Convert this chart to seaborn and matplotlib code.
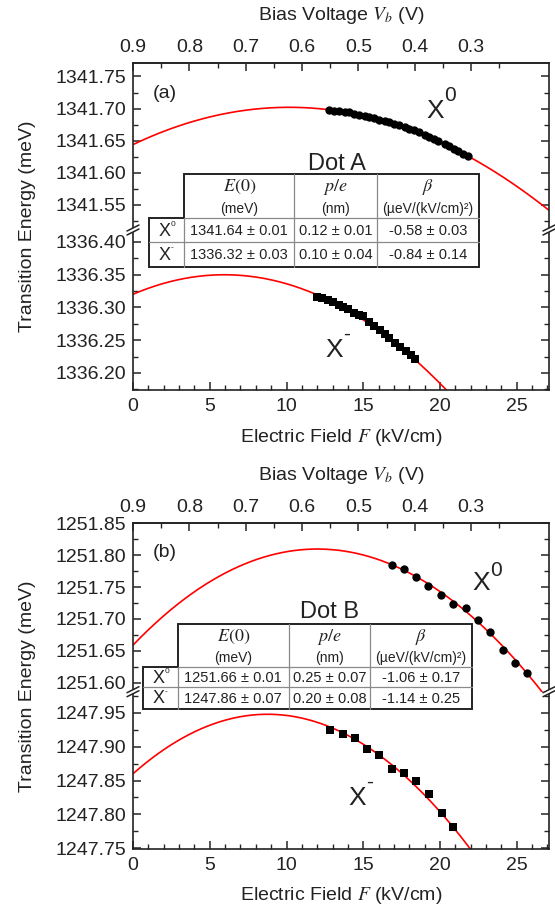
import numpy as np
import matplotlib
matplotlib.use("Agg")
import matplotlib.pyplot as plt
from matplotlib.lines import Line2D
from matplotlib.patches import Polygon
from matplotlib.ticker import MultipleLocator, FormatStrFormatter, FixedLocator
import seaborn as sns

# ---------------- data ----------------
# Dot A: X0 (circles) and X- (squares), energy in meV vs field in kV/cm
a_x0_F = [12.8, 13.1, 13.4, 13.8, 14.1, 14.4, 14.7, 15.1, 15.4, 15.7, 16.0, 16.4, 16.7, 17.0, 17.3,
          17.7, 18.0, 18.3, 18.6, 19.0, 19.3, 19.6, 19.9, 20.3, 20.6, 20.9, 21.2, 21.5, 21.8]
a_x0_E = [1341.698, 1341.697, 1341.696, 1341.695, 1341.694, 1341.692, 1341.690, 1341.689, 1341.687,
          1341.685, 1341.683, 1341.681, 1341.679, 1341.676, 1341.674, 1341.671, 1341.668, 1341.666,
          1341.663, 1341.659, 1341.656, 1341.652, 1341.649, 1341.645, 1341.641, 1341.637, 1341.634,
          1341.630, 1341.626]
a_xm_F = [12.0, 12.3, 12.7, 13.0, 13.4, 13.7, 14.0, 14.4, 14.7, 15.0, 15.4, 15.7, 16.1, 16.4, 16.7,
          17.1, 17.4, 17.8, 18.1, 18.4]
a_xm_E = [1336.316, 1336.314, 1336.311, 1336.308, 1336.304, 1336.300, 1336.297, 1336.292, 1336.289,
          1336.287, 1336.278, 1336.272, 1336.265, 1336.259, 1336.254, 1336.246, 1336.240, 1336.233,
          1336.227, 1336.221]

# Dot B
b_x0_F = [16.85, 17.65, 18.46, 19.25, 20.07, 20.87, 21.67, 22.46, 23.28, 24.08, 24.87, 25.65]
b_x0_E = [1251.785, 1251.778, 1251.766, 1251.751, 1251.737, 1251.724, 1251.717, 1251.698, 1251.679,
          1251.652, 1251.631, 1251.615]
b_xm_F = [12.83, 13.66, 14.46, 15.26, 16.05, 16.87, 17.65, 18.44, 19.28, 20.11, 20.85]
b_xm_E = [1247.924, 1247.918, 1247.912, 1247.897, 1247.888, 1247.867, 1247.861, 1247.850, 1247.830,
          1247.802, 1247.782]

# table values: rows X0, X-
a_E0 = [1341.64, 1336.32]
a_E0_err = [0.01, 0.03]
a_p = [0.12, 0.10]
a_p_err = [0.01, 0.04]
a_beta = [-0.58, -0.84]
a_beta_err = [0.03, 0.14]

b_E0 = [1251.66, 1247.86]
b_E0_err = [0.01, 0.07]
b_p = [0.25, 0.20]
b_p_err = [0.07, 0.08]
b_beta = [-1.06, -1.14]
b_beta_err = [0.17, 0.25]

# red fit curves E0 + p*F + beta*F^2 as drawn (meV, nm, ueV/(kV/cm)^2), rows X0, X-
a_line_E0 = [1341.644, 1336.32]
a_line_p = [0.114, 0.10]
a_line_beta = [-0.56, -0.84]
b_line_E0 = [1251.659, 1247.86]
b_line_p = [0.251, 0.20]
b_line_beta = [-1.045, -1.14]

# y ranges of the broken axes (upper part, lower part)
a_ylim_hi = (1341.511, 1341.771)
a_ylim_lo = (1336.174, 1336.418)
b_ylim_hi = (1251.586, 1251.851)
b_ylim_lo = (1247.749, 1247.981)
F_max = 27.1

# ---------------- style ----------------
sns.set_style("ticks")
plt.rcParams["font.family"] = ["Liberation Sans", "DejaVu Sans"]
plt.rcParams["mathtext.fontset"] = "stix"
TXT = "#222222"

W, H = 555, 906
fig = plt.figure(figsize=(W / 100, H / 100), dpi=100)


def fx(x):
    return x / W


def fy(y):
    return 1 - y / H


def ftext(x, y, s, **kw):
    kw.setdefault("color", TXT)
    fig.text(fx(x), fy(y), s, **kw)


def f2v(F):
    return 0.9 - np.asarray(F) / 36.7


def v2f(V):
    return (0.9 - np.asarray(V)) * 36.7


def fit_curve(E0, p, beta, F):
    return E0 + 0.1 * p * F + 1e-3 * beta * F ** 2


def style_y(ax, lim):
    ax.set_ylim(*lim)
    ax.yaxis.set_major_locator(MultipleLocator(0.05))
    ax.yaxis.set_minor_locator(MultipleLocator(0.025))
    ax.yaxis.set_major_formatter(FormatStrFormatter("%.2f"))
    ax.tick_params(axis="y", which="both", left=True, right=True, direction="in",
                   labelsize=14, labelcolor=TXT, pad=5)
    ax.tick_params(axis="y", which="major", length=6, width=1.1)
    ax.tick_params(axis="y", which="minor", length=3.5, width=1.0)
    ax.set_xlim(0, F_max)
    ax.set_ylabel("")
    ax.set_xlabel("")
    for s in ax.spines.values():
        s.set_linewidth(1.2)
        s.set_color("#222")


def big_x(x, base, sup, rise):
    ftext(x, base, "X", fontsize=19, va="baseline", ha="left")
    ftext(x + 18.5, base - rise, sup, fontsize=15, va="baseline", ha="left")


def break_mark(x, y):
    pts = [(x - 6, y + 1), (x + 6, y - 5), (x + 6, y - 1), (x - 6, y + 5)]
    fig.add_artist(Polygon([(fx(a), fy(b)) for a, b in pts], closed=True, facecolor="white",
                           edgecolor="none", transform=fig.transFigure, zorder=11))
    for d in (0, 4):
        fig.add_artist(Line2D([fx(x - 6), fx(x + 6)], [fy(y + 1 + d), fy(y - 5 + d)],
                              color="#222", lw=1.1, transform=fig.transFigure, zorder=12))


def table(xs, ys, title, title_xy, E0, E0e, p, pe, beta, betae):
    x0, x1, x2, x3, x4 = xs
    yh, y1, y2, y3 = ys
    outline = [(x1, yh), (x4, yh), (x4, y3), (x0, y3), (x0, y1), (x1, y1)]
    fig.add_artist(Polygon([(fx(a), fy(b)) for a, b in outline], closed=True, facecolor="white",
                           edgecolor="#222", lw=1.4, transform=fig.transFigure, zorder=10))
    grey = dict(color="#8a8a8a", lw=0.9, transform=fig.transFigure, zorder=11)
    for xv in (x2, x3):
        fig.add_artist(Line2D([fx(xv), fx(xv)], [fy(yh), fy(y3)], **grey))
    fig.add_artist(Line2D([fx(x1), fx(x1)], [fy(y1), fy(y3)], **grey))
    fig.add_artist(Line2D([fx(x1), fx(x4)], [fy(y1), fy(y1)], **grey))
    fig.add_artist(Line2D([fx(x0), fx(x4)], [fy(y2), fy(y2)], **grey))

    ftext(title_xy[0], title_xy[1], title, fontsize=17, ha="center", va="center", zorder=13)
    centers = [(x1 + x2) / 2, (x2 + x3) / 2, (x3 + x4) / 2]
    heads = ["$E(0)$", "$p/e$", r"$\beta$"]
    units = ["(meV)", "(nm)", "(µeV/(kV/cm)²)"]
    hs = y1 - yh
    for c, h, u in zip(centers, heads, units):
        ftext(c, yh + 0.3 * hs, h, fontsize=13, ha="center", va="center", zorder=13)
        ftext(c, yh + 0.78 * hs, u, fontsize=10, ha="center", va="center", zorder=13)
    rows_y = [(y1 + y2) / 2, (y2 + y3) / 2]
    sups = ["0", "-"]
    for i in range(2):
        yc = rows_y[i]
        ftext((x0 + x1) / 2 - 2, yc + 1, "X", fontsize=13, ha="center", va="center", zorder=13)
        ftext((x0 + x1) / 2 + 4, yc - 6, sups[i], fontsize=6, ha="left", va="center", zorder=13)
        vals = [f"{E0[i]:.2f} ± {E0e[i]:.2f}", f"{p[i]:.2f} ± {pe[i]:.2f}",
                f"{beta[i]:.2f} ± {betae[i]:.2f}"]
        for c, v in zip(centers, vals):
            ftext(c, yc + 1, v, fontsize=10.5, ha="center", va="center", zorder=13)


def panel(top, mid, bottom, lim_hi, lim_lo, x0F, x0E, xmF, xmE, E0, p, beta, tag):
    left, right = 133, 549
    ax_hi = fig.add_axes([fx(left), fy(mid), (right - left) / W, (mid - top) / H])
    ax_lo = fig.add_axes([fx(left), fy(bottom), (right - left) / W, (bottom - mid) / H])
    F_line = np.linspace(0, F_max, 400)

    sns.lineplot(x=F_line, y=fit_curve(E0[0], p[0], beta[0], F_line), ax=ax_hi, color="red",
                 lw=1.2, sort=False, estimator=None, zorder=2)
    sns.scatterplot(x=x0F, y=x0E, ax=ax_hi, color="black", marker="o", s=36, linewidth=0,
                    zorder=3)
    sns.lineplot(x=F_line, y=fit_curve(E0[1], p[1], beta[1], F_line), ax=ax_lo, color="red",
                 lw=1.2, sort=False, estimator=None, zorder=2)
    sns.scatterplot(x=xmF, y=xmE, ax=ax_lo, color="black", marker="s", s=30, linewidth=0,
                    zorder=3)

    style_y(ax_hi, lim_hi)
    style_y(ax_lo, lim_lo)

    ax_hi.spines["bottom"].set_visible(False)
    ax_hi.tick_params(axis="x", which="both", bottom=False, top=False, labelbottom=False)
    ax_lo.spines["top"].set_visible(False)
    ax_lo.xaxis.set_major_locator(MultipleLocator(5))
    ax_lo.xaxis.set_minor_locator(MultipleLocator(1))
    ax_lo.tick_params(axis="x", which="both", bottom=True, top=False, direction="in",
                      labelsize=14, labelcolor=TXT, pad=6)
    ax_lo.tick_params(axis="x", which="major", length=6, width=1.1)
    ax_lo.tick_params(axis="x", which="minor", length=3.5, width=1.0)

    sec = ax_hi.secondary_xaxis("top", functions=(f2v, v2f))
    sec.xaxis.set_major_locator(FixedLocator([0.9, 0.8, 0.7, 0.6, 0.5, 0.4, 0.3]))
    sec.xaxis.set_minor_locator(FixedLocator([0.85, 0.75, 0.65, 0.55, 0.45, 0.35, 0.25]))
    sec.xaxis.set_major_formatter(FormatStrFormatter("%.1f"))
    sec.tick_params(which="both", direction="in", labelsize=14, labelcolor=TXT, pad=5)
    sec.tick_params(which="major", length=6, width=1.1)
    sec.tick_params(which="minor", length=3.5, width=1.0)
    sec.spines["top"].set_linewidth(1.2)

    break_mark(left, mid)
    break_mark(right, mid)

    ftext(165, top + 30, tag, fontsize=14, ha="center", va="center")
    ftext(341, top - 47, "Bias Voltage $V_b$ (V)", fontsize=14, ha="center", va="center")
    ftext(341, bottom + 47, "Electric Field $F$ (kV/cm)", fontsize=14, ha="center",
          va="center")
    ftext(28, (top + bottom) / 2, "Transition Energy (meV)", fontsize=14, ha="center",
          va="center", rotation=90)


panel(63, 230, 390, a_ylim_hi, a_ylim_lo, a_x0_F, a_x0_E, a_xm_F, a_xm_E,
      a_line_E0, a_line_p, a_line_beta, "(a)")
table((149.3, 184.3, 294.3, 377.3, 479), (174, 218.3, 241.7, 266.7), "Dot A", (337, 163.5),
      a_E0, a_E0_err, a_p, a_p_err, a_beta, a_beta_err)
big_x(426, 118, "0", 17)
big_x(325, 357, "-", 17)

panel(522.7, 691.7, 849, b_ylim_hi, b_ylim_lo, b_x0_F, b_x0_E, b_xm_F, b_xm_E,
      b_line_E0, b_line_p, b_line_beta, "(b)")
table((143.3, 177.7, 289, 370, 472.3), (624.3, 667.3, 687.3, 708.5), "Dot B", (329, 612.5),
      b_E0, b_E0_err, b_p, b_p_err, b_beta, b_beta_err)
big_x(472, 590, "0", 14)
big_x(348, 805, "-", 17)

fig.savefig("out.png", dpi=100)
